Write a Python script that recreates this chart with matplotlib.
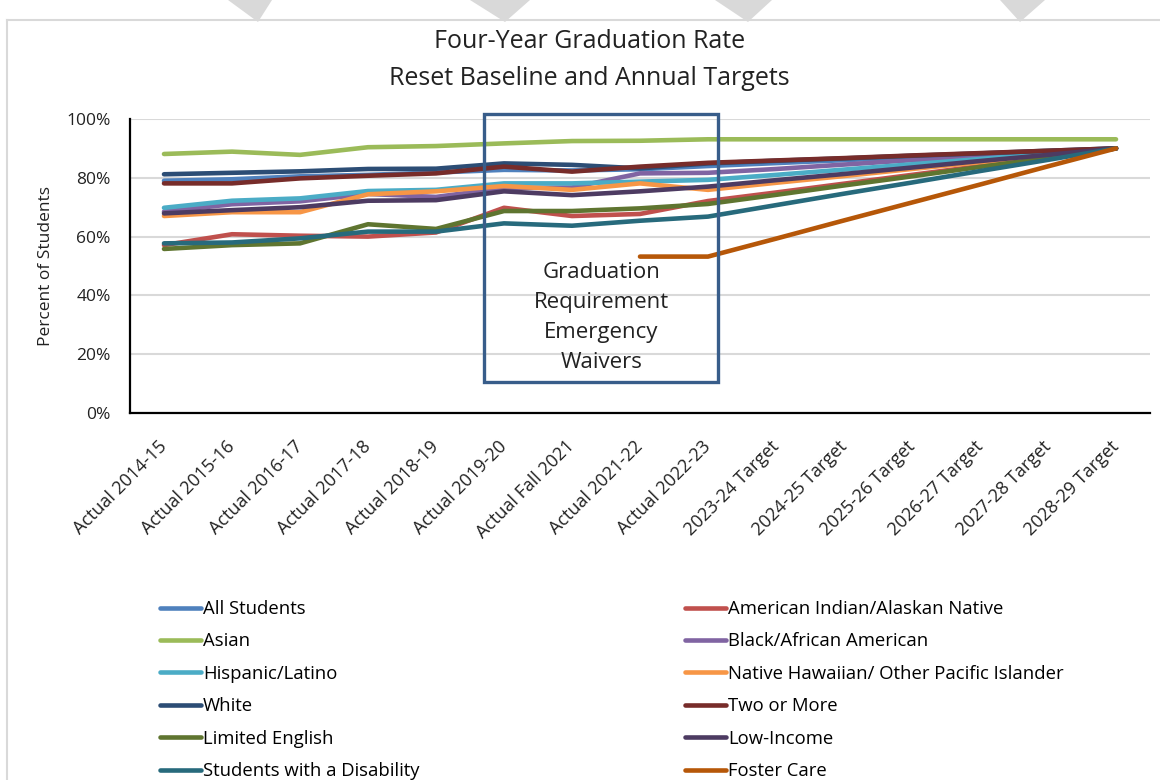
import numpy as np
import matplotlib.pyplot as plt
from matplotlib.patches import Rectangle, Polygon
from matplotlib.ticker import PercentFormatter

plt.rcParams['font.family'] = ['Open Sans', 'DejaVu Sans']

categories = ["Actual 2014-15", "Actual 2015-16", "Actual 2016-17", "Actual 2017-18",
              "Actual 2018-19", "Actual 2019-20", "Actual Fall 2021", "Actual 2021-22",
              "Actual 2022-23", "2023-24 Target", "2024-25 Target", "2025-26 Target",
              "2026-27 Target", "2027-28 Target", "2028-29 Target"]

all_students = [79.0, 79.5, 80.5, 81.0, 81.8, 82.7, 82.5, 82.9, 84.0, 85.0, 86.0, 87.0, 88.0, 89.0, 90.0]
american_indian = [57.1, 60.8, 60.3, 60.0, 61.4, 69.8, 67.0, 67.7, 72.1, 75.0, 78.0, 81.0, 84.0, 87.0, 90.0]
asian = [88.1, 88.9, 87.8, 90.4, 90.8, 91.7, 92.5, 92.6, 93.1, 93.1, 93.1, 93.1, 93.1, 93.1, 93.1]
black = [68.5, 71.0, 72.0, 74.5, 73.5, 76.5, 76.7, 81.5, 81.7, 83.0, 84.5, 86.0, 87.2, 88.6, 90.0]
hispanic = [69.8, 72.2, 73.0, 75.5, 75.9, 78.1, 78.1, 78.7, 79.3, 81.0, 82.8, 84.6, 86.4, 88.2, 90.0]
native_hawaiian = [67.0, 68.3, 68.3, 74.4, 75.4, 77.2, 75.9, 78.1, 75.9, 78.3, 80.6, 83.0, 85.3, 87.6, 90.0]
white = [81.2, 81.7, 82.2, 83.0, 83.1, 84.9, 84.4, 83.2, 84.9, 85.8, 86.6, 87.5, 88.3, 89.2, 90.0]
two_or_more = [78.1, 78.1, 79.8, 80.7, 81.5, 83.8, 82.1, 83.8, 85.1, 85.9, 86.7, 87.6, 88.4, 89.2, 90.0]
limited_english = [55.8, 57.1, 57.7, 64.2, 62.6, 68.7, 68.7, 69.6, 71.1, 74.2, 77.4, 80.5, 83.7, 86.8, 90.0]
low_income = [67.9, 69.0, 70.0, 72.2, 72.4, 75.4, 74.1, 75.4, 77.0, 79.2, 81.3, 83.5, 85.7, 87.8, 90.0]
disability = [57.7, 58.0, 59.4, 61.7, 61.7, 64.5, 63.7, 65.4, 66.8, 70.7, 74.6, 78.4, 82.3, 86.1, 90.0]
foster_care = [np.nan, np.nan, np.nan, np.nan, np.nan, np.nan, np.nan, 53.2, 53.2, 59.3, 65.5, 71.6, 77.7, 83.9, 90.0]

series = [
    ("All Students", all_students, "#4F81BD"),
    ("American Indian/Alaskan Native", american_indian, "#C0504D"),
    ("Asian", asian, "#9BBB59"),
    ("Black/African American", black, "#8064A2"),
    ("Hispanic/Latino", hispanic, "#4BACC6"),
    ("Native Hawaiian/ Other Pacific Islander", native_hawaiian, "#F79646"),
    ("White", white, "#2C4D75"),
    ("Two or More", two_or_more, "#772C2A"),
    ("Limited English", limited_english, "#5F7530"),
    ("Low-Income", low_income, "#4D3B62"),
    ("Students with a Disability", disability, "#276A7C"),
    ("Foster Care", foster_care, "#B65708"),
]

fig = plt.figure(figsize=(11.6, 7.8), dpi=100)
ax = fig.add_axes([130 / 1160, 1 - 413 / 780, 1020 / 1160, 294 / 780])

x = np.arange(len(categories))
handles = {}
for name, vals, color in series:
    line, = ax.plot(x, vals, color=color, linewidth=3.3, solid_capstyle='round', label=name)
    handles[name] = line

ax.set_xlim(-0.5, len(categories) - 0.5)
ax.set_ylim(0, 100)
ax.set_yticks([0, 20, 40, 60, 80, 100])
ax.yaxis.set_major_formatter(PercentFormatter(decimals=0))
ax.grid(axis='y', color='#D9D9D9', linewidth=1.5)
ax.set_axisbelow(True)
for s in ['top', 'right']:
    ax.spines[s].set_visible(False)
ax.spines['left'].set_linewidth(1.6)
ax.spines['bottom'].set_linewidth(1.6)
ax.tick_params(axis='y', length=0, pad=14, labelsize=12.5, colors='#222222')
ax.tick_params(axis='x', length=0, pad=22, labelsize=13, colors='#222222')
ax.set_xticks(x)
ax.set_xticklabels(categories, rotation=45, ha='right', va='center', rotation_mode='anchor')
ax.set_ylabel("Percent of Students", fontsize=12.5, labelpad=9, color='#222222')

# emergency waiver box
ax.add_patch(Rectangle((4.71, 10.5), 3.44, 91.2, fill=False, edgecolor='#385D8A',
                       linewidth=2.4, clip_on=False, zorder=5))
ax.text(6.43, 32.6, "Graduation\nRequirement\nEmergency\nWaivers", ha='center', va='center',
        fontsize=16, linespacing=1.56, color='#222222', zorder=6)

fig.text(0.508, 1 - 60 / 780, "Four-Year Graduation Rate\nReset Baseline and Annual Targets",
         ha='center', va='center', fontsize=18, linespacing=1.66, color='#222222')

# legend in two columns
left_names = ["All Students", "Asian", "Hispanic/Latino", "White", "Limited English",
              "Students with a Disability"]
right_names = ["American Indian/Alaskan Native", "Black/African American",
               "Native Hawaiian/ Other Pacific Islander", "Two or More", "Low-Income", "Foster Care"]
leg_kw = dict(frameon=False, fontsize=13.3, handlelength=2.2, handletextpad=0.12,
              labelspacing=0.78, loc='upper left', borderaxespad=0, borderpad=0)
fig.legend([handles[n] for n in left_names], left_names,
           bbox_to_anchor=(160 / 1160, 1 - 600 / 780), **leg_kw)
fig.legend([handles[n] for n in right_names], right_names,
           bbox_to_anchor=(685 / 1160, 1 - 600 / 780), **leg_kw)

# chart border and watermark fragments
fig.add_artist(plt.Line2D([7 / 1160, 7 / 1160], [0, 1 - 20 / 780], color='#D9D9D9', linewidth=1.5))
fig.add_artist(plt.Line2D([7 / 1160, 1], [1 - 20 / 780, 1 - 20 / 780], color='#D9D9D9', linewidth=1.5))
for x0, x1, xb in [(228, 272, 258), (470, 530, 505), (715, 772, 748), (1000, 1045, 1020)]:
    fig.add_artist(Polygon([(x0 / 1160, 1), (x1 / 1160, 1), (xb / 1160, 1 - 22 / 780)],
                           closed=True, facecolor='#D9D9D9', edgecolor='none'))

fig.savefig("out.png", dpi=100)
